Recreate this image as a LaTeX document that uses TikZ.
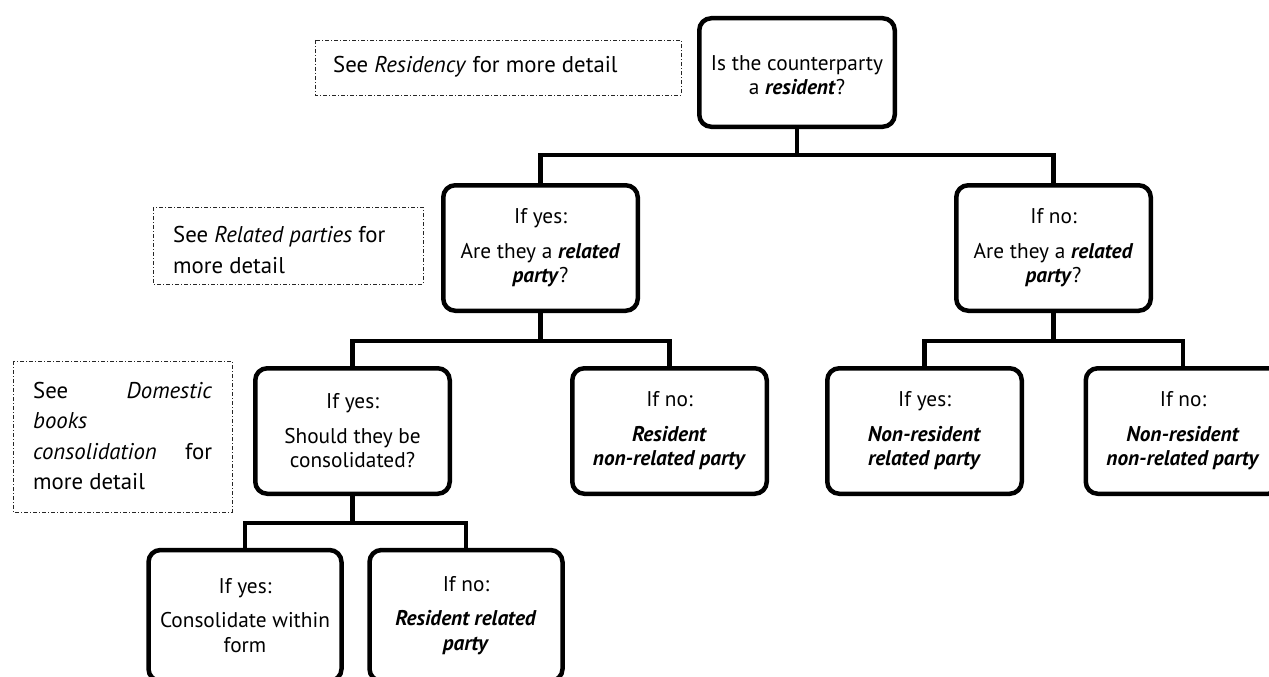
\documentclass[tikz,border=0pt]{standalone}
\usepackage{fontspec}
\setmainfont{PT Sans}
\newcommand\bitx[1]{\textbf{\textit{#1}}}
\newcommand\nodefnt{\fontsize{21.3}{24.5}\selectfont}
\newcommand\notefnt{\fontsize{22.8}{30.5}\selectfont}
\begin{document}
\begin{tikzpicture}[x=1pt,y=-1pt,
  box/.style={draw, line width=4.5pt, rounded corners=12pt, align=center,
    inner sep=0pt, minimum width=194.5pt, minimum height=125.5pt, font=\nodefnt},
  conn/.style={line width=4.5pt},
  notebox/.style={draw=black!85, line width=0.9pt, dash pattern=on 4pt off 2pt on 1pt off 2pt},
  notetext/.style={anchor=west, align=left, inner sep=0pt, font=\notefnt}]
\useasboundingbox (0,0) rectangle (1269,677);
\clip (0,0) rectangle (1269,677);
% boxes
\node[box, minimum width=195.5pt, minimum height=108.5pt] (top) at (797,72.5) {\rule{0pt}{20pt}Is the counterparty\\a \bitx{resident}?};
\node[box] (l2a) at (540.5,248) {If yes:\\[10pt]Are they a \bitx{related}\\\bitx{party}?};
\node[box] (l2b) at (1053.5,248) {If no:\\[10pt]Are they a \bitx{related}\\\bitx{party}?};
\node[box] (l3a) at (352.5,431) {If yes:\\[10pt]Should they be\\consolidated?};
\node[box] (l3b) at (669.5,431) {If no:\\[10pt]\bitx{Resident}\\\bitx{non-related party}};
\node[box] (l3c) at (924.5,431) {If yes:\\[10pt]\bitx{Non-resident}\\\bitx{related party}};
\node[box] (l3d) at (1183,431) {If no:\\[10pt]\bitx{Non-resident}\\\bitx{non-related party}};
\node[box, minimum width=193pt, minimum height=131pt] (l4a) at (245,615.5) {If yes:\\[10pt]Consolidate within\\form};
\node[box, minimum width=193pt, minimum height=131pt] (l4b) at (466,615.5) {If no:\\[10pt]\bitx{Resident related}\\\bitx{party}};
% connectors
\coordinate (j1) at (797,155);
\coordinate (j2) at (540.5,341);
\coordinate (j3) at (1053.5,341);
\coordinate (j4) at (352.5,523);
\draw[conn] (top.south) -- (j1);
\draw[conn] (l2a.north) |- (j1) -| (l2b.north);
\draw[conn] (l2a.south) -- (j2);
\draw[conn] (l3a.north) |- (j2) -| (l3b.north);
\draw[conn] (l2b.south) -- (j3);
\draw[conn] (l3c.north) |- (j3) -| (l3d.north);
\draw[conn] (l3a.south) -- (j4);
\draw[conn] (l4a.north) |- (j4) -| (l4b.north);
% notes
\draw[notebox] (315,40) rectangle (681,95);
\node[notetext] (n1) at (333,67) {See \textit{Residency} for more detail};
\draw[notebox] (153,207) rectangle (423,284);
\node[notetext] (n2) at (173,250) {See \textit{Related parties} for\\more detail};
\draw[notebox] (13,361) rectangle (232,512);
\node[notetext] (n3) at (33,436) {\hbox to 179pt{See\hfill\textit{Domestic}}\\\textit{books}\\\hbox to 179pt{\textit{consolidation}\hfill for}\\more detail};
\end{tikzpicture}
\end{document}
